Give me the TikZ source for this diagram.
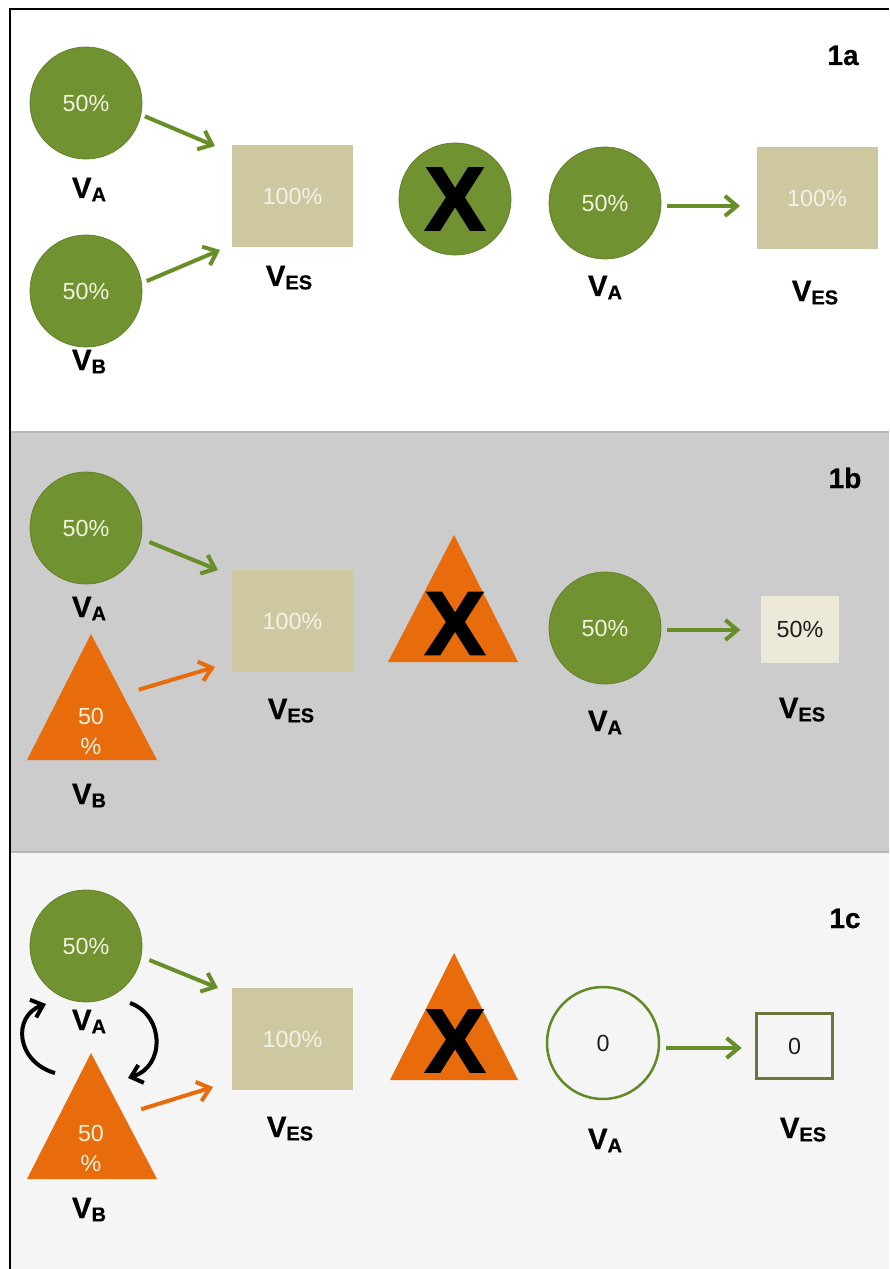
\documentclass[tikz,border=0pt]{standalone}
\usepackage{fontspec}
\setmainfont{Liberation Sans}
\newfontfamily\crossfont{Liberation Sans Bold}[FakeBold=2.5]
\newfontfamily\labfont{Liberation Sans Bold}[FakeBold=0.6]
\usetikzlibrary{arrows.meta,calc}

\definecolor{leaf}{RGB}{112,146,48}
\definecolor{leafedge}{RGB}{98,130,42}
\definecolor{leafarrow}{RGB}{104,142,40}
\definecolor{leafline}{RGB}{100,138,40}
\definecolor{olivebox}{RGB}{108,118,58}
\definecolor{flame}{RGB}{232,108,12}
\definecolor{tanfill}{RGB}{206,200,160}
\definecolor{creamfill}{RGB}{237,233,216}
\definecolor{cream}{RGB}{242,242,222}
\definecolor{ivory}{RGB}{242,242,234}
\definecolor{ink}{RGB}{30,30,30}
\definecolor{panelb}{RGB}{204,204,204}
\definecolor{panelc}{RGB}{245,245,245}
\definecolor{sepgray}{RGB}{184,184,184}

\newcommand{\pctfont}{\fontsize{17.5}{22.5}\selectfont}
\newcommand{\vsub}[1]{V\raisebox{-2.5pt}{\fontsize{15}{16}\selectfont #1}}

\tikzset{every picture/.style={line width=0.75pt}}
\tikzset{
  gcirc/.style={circle, fill=leaf, draw=leafedge, line width=0.6pt, minimum size=84pt, inner sep=0pt, text=cream, font=\pctfont},
  hcirc/.style={circle, draw=leafline, line width=1.9pt, minimum size=84pt, inner sep=0pt, text=ink, font=\pctfont},
  tanbox/.style={rectangle, fill=tanfill, minimum width=90.75pt, minimum height=76.5pt, inner sep=0pt, text=ivory, font=\pctfont},
  creambox/.style={rectangle, fill=creamfill, minimum width=58.5pt, minimum height=50.25pt, inner sep=0pt, text=ink, font=\pctfont},
  hbox/.style={rectangle, draw=olivebox, line width=2.25pt, minimum width=57pt, minimum height=49pt, inner sep=0pt, text=ink, font=\pctfont},
  trifill/.style={fill=flame},
  tritext/.style={align=center, inner sep=0pt, text=cream, font=\pctfont},
  xmark/.style={inner sep=0pt, text=black, font=\crossfont\fontsize{67}{67}\selectfont},
  vlab/.style={anchor=base, inner sep=0pt, font=\labfont\fontsize{22}{24}\selectfont},
  paneltag/.style={anchor=base, inner sep=0pt, font=\labfont\fontsize{21}{24}\selectfont},
  garr/.style={draw=leafarrow, line width=3pt, -{Straight Barb[length=9pt,width=15pt]}},
  oarr/.style={garr, draw=flame},
  barr/.style={draw=black, line width=3pt, -{Straight Barb[length=8pt,width=14pt]}},
}

\begin{document}
\begin{tikzpicture}[x=0.75pt,y=0.75pt,yscale=-1,xscale=1]
\useasboundingbox (0,0) rectangle (889,1269);

%Backgrounds of the three panels
\fill[white] (0,0) rectangle (889,1269);
\fill[panelb] (10,432) rectangle (889,852);
\fill[panelc] (10,852) rectangle (889,1269);
\draw[sepgray, line width=1.5pt] (10,432) -- (889,432);
\draw[sepgray, line width=1.5pt] (10,852) -- (889,852);
%Frame
\draw[line width=1.5pt] (10,1269) -- (10,9) -- (889,9);

%%% Panel 1a
\node[paneltag] (tag1) at (843,65) {1a};
\node[gcirc] (a1) at (86,103) {50\%};
\node[gcirc] (b1) at (86,291) {50\%};
\node[tanbox] (es1) at (292.5,196) {100\%};
\node[gcirc] (x1) at (455,199) {};
\node[xmark] at (x1) {X};
\node[gcirc] (a2) at (605,203) {50\%};
\node[tanbox] (es2) at (817,198.5) {100\%};

\node[vlab] (la1) at (89,198) {\vsub{A}};
\node[vlab] (lb1) at (89,370) {\vsub{B}};
\node[vlab] (les1) at (289,286) {\vsub{ES}};
\node[vlab] (la2) at (605,296) {\vsub{A}};
\node[vlab] (les2) at (815,301) {\vsub{ES}};

\coordinate (p1) at (215,146);
\coordinate (p2) at (220,250);
\draw[garr, shorten <=3pt] (a1.-12) -- (p1);
\draw[garr, shorten <=4pt] (b1.8) -- (p2);
\draw[garr, shorten <=4.5pt, shorten >=12pt] (a2.-3) -- (a2.-3 -| es2.west);

%%% Panel 1b
\node[paneltag] (tag2) at (845,488) {1b};
\node[gcirc] (a3) at (86,528) {50\%};
\path[trifill] (91,634) coordinate (b3t) -- (157,760) coordinate (b3r) -- (27,760) coordinate (b3l) -- cycle;
\node[tritext] (b3) at (91,731) {50\\\%};
\node[tanbox] (es3) at (292.5,621) {100\%};
\path[trifill] (454,535) coordinate (x3t) -- (518,662) -- (388,662) -- cycle;
\node[xmark] (x3) at (455,623.5) {X};
\node[gcirc] (a4) at (605,628) {50\%};
\node[creambox] (es4) at (800,629.5) {50\%};

\node[vlab] (la3) at (89,617) {\vsub{A}};
\node[vlab] (lb3) at (89,804) {\vsub{B}};
\node[vlab] (les3) at (291,719) {\vsub{ES}};
\node[vlab] (la4) at (605,731) {\vsub{A}};
\node[vlab] (les4) at (802,718) {\vsub{ES}};

\coordinate (p3) at (218,570);
\coordinate (p4) at (215,667);
\draw[garr, shorten <=6.5pt] (a3.-11) -- (p3);
\draw[oarr, shorten <=12.5pt] ($(b3t)!0.48!(b3r)$) -- (p4);
\draw[garr, shorten <=4.5pt, shorten >=15pt] (a4.-2) -- (a4.-2 -| es4.west);

%%% Panel 1c
\node[paneltag] (tag3) at (845,928) {1c};
\node[gcirc] (a5) at (86,946) {50\%};
\path[trifill] (91,1053) coordinate (b5t) -- (157,1179) coordinate (b5r) -- (27,1179) coordinate (b5l) -- cycle;
\node[tritext] (b5) at (91,1148) {50\\\%};
\node[tanbox] (es5) at (292.5,1039) {100\%};
\path[trifill] (454,953) coordinate (x5t) -- (518,1080) -- (390,1080) -- cycle;
\node[xmark] (x5) at (455,1041) {X};
\node[hcirc] (a6) at (603,1043) {0};
\node[hbox] (es6) at (794.5,1046) {0};

\node[vlab] (la5) at (89,1030) {\vsub{A}};
\node[vlab] (lb5) at (89,1218) {\vsub{B}};
\node[vlab] (les5) at (290,1137) {\vsub{ES}};
\node[vlab] (la6) at (605,1149) {\vsub{A}};
\node[vlab] (les6) at (803,1138) {\vsub{ES}};

\coordinate (p5) at (218,988);
\coordinate (p6) at (213,1087);
\draw[garr, shorten <=6.5pt] (a5.-11) -- (p5);
\draw[oarr, shorten <=14pt] ($(b5t)!0.49!(b5r)$) -- (p6);
\draw[garr, shorten <=4.5pt, shorten >=10pt] (a6.-5) -- (a6.-5 -| es6.west);

%feedback between V_A and V_B
\coordinate (c1) at (55,1073);
\coordinate (c2) at (128,1078);
\draw[barr] (c1) .. controls (16,1062) and (12,1016) .. ($(a5)+(-40,58)$);
\draw[barr] ($(a5)+(44,57)$) .. controls (164,1015) and (166,1066) .. (c2);

\end{tikzpicture}
\end{document}
